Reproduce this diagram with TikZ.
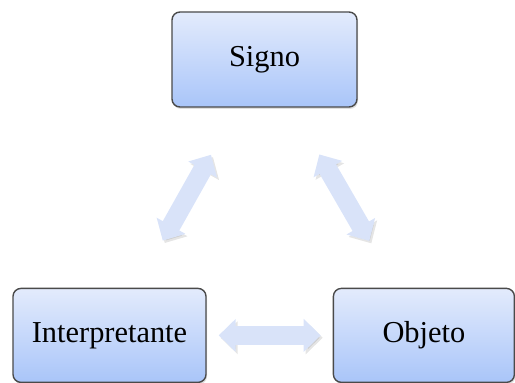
\documentclass[tikz,border=0pt]{standalone}
\usepackage{fontspec}
\setmainfont{Liberation Serif}
\usetikzlibrary{arrows.meta,positioning,shadows}
\definecolor{boxtop}{HTML}{E3EBFC}
\definecolor{boxbot}{HTML}{A9C5F9}
\definecolor{boxline}{HTML}{4A4A4A}
\definecolor{arrfill}{HTML}{D9E3F9}

\begin{document}
\begin{tikzpicture}[
    node distance=90pt,
    box/.style={draw=boxline, line width=0.7pt, rounded corners=4pt, top color=boxtop, bottom color=boxbot, minimum width=92.5pt, minimum height=47pt, inner sep=2pt, font=\fontsize{15.2}{18}\selectfont, drop shadow={opacity=0.25, shadow xshift=0.5pt, shadow yshift=-1pt}},
    arr/.style={{Triangle[width=16pt,length=8.5pt]}-{Triangle[width=16pt,length=8.5pt]}, line width=9.5pt, draw=arrfill, preaction={draw=black, opacity=0.1, transform canvas={shift={(1pt,-1.2pt)}}}}
  ]
    \useasboundingbox (0,0) rectangle (257.5pt,-191.5pt);

    \node[box, minimum height=47.5pt] (signo) at (132.25pt,-29.75pt) {Signo};

    \node[box, below=90pt of signo, xshift=-77.5pt, minimum width=96.5pt] (interp) {Interpretante};
    \node[box, right=63pt of interp, minimum width=90.5pt] (objeto) {Objeto};

    \draw[arr, shorten <=27pt, shorten >=27pt] (signo) -- (interp);
    \draw[arr, shorten <=27pt, shorten >=27pt] (signo) -- (objeto);
    \draw[arr, shorten <=6pt, shorten >=6pt] (interp) -- (objeto);
  \end{tikzpicture}
\end{document}
